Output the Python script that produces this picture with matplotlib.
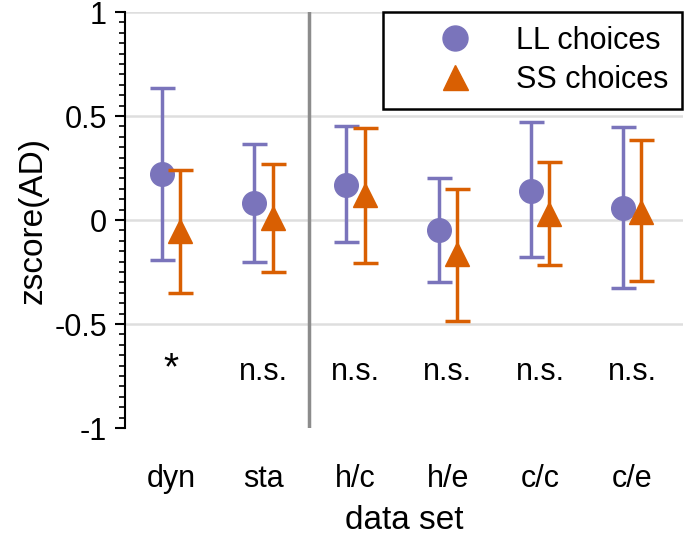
import matplotlib
matplotlib.use("Agg")
import matplotlib.pyplot as plt
from matplotlib.lines import Line2D
from matplotlib.ticker import MultipleLocator

plt.rcParams["font.family"] = ["Liberation Sans", "DejaVu Sans"]

datasets = ["dyn", "sta", "h/c", "h/e", "c/c", "c/e"]
ll_mean = [0.22, 0.08, 0.17, -0.05, 0.14, 0.06]
ll_upper = [0.635, 0.365, 0.45, 0.20, 0.47, 0.445]
ll_lower = [-0.19, -0.20, -0.105, -0.30, -0.18, -0.325]
ss_mean = [-0.055, 0.01, 0.12, -0.165, 0.03, 0.04]
ss_upper = [0.24, 0.27, 0.44, 0.15, 0.28, 0.385]
ss_lower = [-0.35, -0.25, -0.205, -0.485, -0.215, -0.295]
signif = ["*", "n.s.", "n.s.", "n.s.", "n.s.", "n.s."]

purple = "#7a74bb"
orange = "#d95f02"

fig = plt.figure(figsize=(6.85, 5.36), dpi=100)
ax = fig.add_axes([125 / 685, 108 / 536, 558 / 685, 416 / 536])

x = list(range(len(datasets)))
off = 0.1

ll_err = [[m - lo for m, lo in zip(ll_mean, ll_lower)], [hi - m for m, hi in zip(ll_mean, ll_upper)]]
ss_err = [[m - lo for m, lo in zip(ss_mean, ss_lower)], [hi - m for m, hi in zip(ss_mean, ss_upper)]]

ax.errorbar([i - off for i in x], ll_mean, yerr=ll_err, fmt="o", color=purple,
            ms=17, elinewidth=2.5, capsize=9, capthick=2.5, zorder=3)
ax.errorbar([i + off for i in x], ss_mean, yerr=ss_err, fmt="^", color=orange,
            ms=17, elinewidth=2.5, capsize=9, capthick=2.5, zorder=4)

for i, s in zip(x, signif):
    if s == "*":
        ax.text(i, -0.72, s, ha="center", va="center", fontsize=28)
    else:
        ax.text(i, -0.73, s, ha="center", va="center", fontsize=22)

ax.axvline(1.5, color="#8c8c8c", lw=2.5, zorder=2)

ax.set_xlim(-0.5, 5.55)
ax.set_ylim(-1, 1)
ax.set_yticks([-1, -0.5, 0, 0.5, 1])
ax.set_yticklabels(["-1", "-0.5", "0", "0.5", "1"])
ax.yaxis.set_minor_locator(MultipleLocator(0.05))
ax.set_xticks(x)
ax.set_xticklabels(datasets)
ax.tick_params(axis="x", length=0, labelsize=22, pad=26)
ax.tick_params(axis="y", which="major", length=7, width=1.5, labelsize=22, pad=6)
ax.tick_params(axis="y", which="minor", length=4, width=1.2)

for y in [-0.5, 0, 0.5, 1]:
    ax.axhline(y, color="#dedede", lw=1.8, zorder=0)

for side in ["top", "right", "bottom"]:
    ax.spines[side].set_visible(False)
ax.spines["left"].set_linewidth(1.5)

ax.set_xlabel("data set", fontsize=24, labelpad=8)
ax.set_ylabel("zscore(AD)", fontsize=24, labelpad=4)

handles = [
    Line2D([], [], marker="o", color=purple, ls="none", ms=18),
    Line2D([], [], marker="^", color=orange, ls="none", ms=18),
]
leg = ax.legend(handles, ["LL choices", "SS choices"], loc="upper right",
                bbox_to_anchor=(682 / 685, 1 - 12 / 536), bbox_transform=fig.transFigure,
                borderaxespad=0, fontsize=22, frameon=True, fancybox=False,
                edgecolor="black", handlelength=3.8, handletextpad=0.1,
                borderpad=0.45, labelspacing=0.3, numpoints=1)
leg.get_frame().set_linewidth(1.8)
leg.get_frame().set_alpha(1)

fig.savefig("out.png", dpi=100)
